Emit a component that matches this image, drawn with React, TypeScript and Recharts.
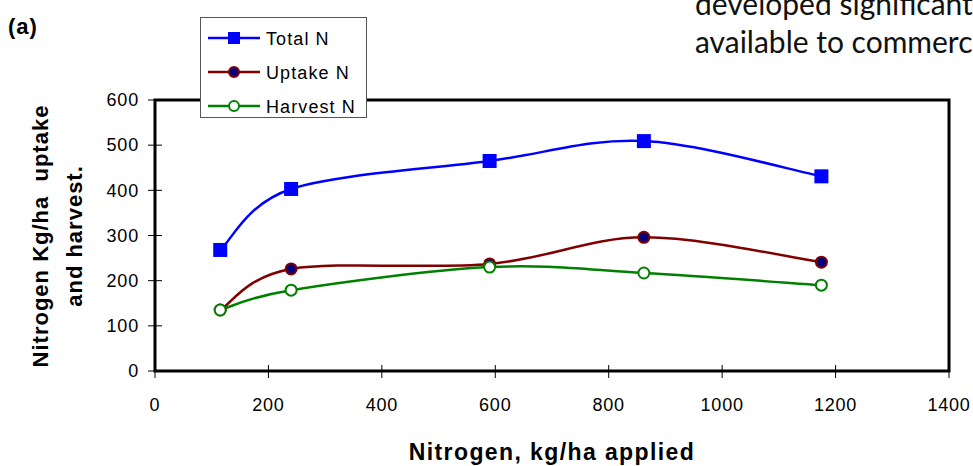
import { Line, LineChart, ReferenceArea, XAxis, YAxis } from 'recharts';

const applied = [115, 240, 590, 862, 1175];
const totalN = [268, 403, 465, 509, 431];
const uptakeN = [135, 226, 237, 296, 241];
const harvestN = [135, 179, 230, 217, 190];

const xTicks = [0, 200, 400, 600, 800, 1000, 1200, 1400];
const yTicks = [0, 100, 200, 300, 400, 500, 600];

const data = applied.map((n, i) => ({
  n,
  total: totalN[i],
  uptake: uptakeN[i],
  harvest: harvestN[i],
}));

const FONT = '"Liberation Sans", Arial, sans-serif';
const TICK_SIZE = 7;
const X_MARGIN = 20;
const Y_MARGIN = 9;

// Excel-style smoothed line (uniform Catmull-Rom as cubic beziers)
// biome-ignore lint/suspicious/noExplicitAny: d3 path context
function excelSmooth(context: any) {
  let xs: number[] = [];
  let ys: number[] = [];
  return {
    areaStart() {},
    areaEnd() {},
    lineStart() {
      xs = [];
      ys = [];
    },
    point(x: number, y: number) {
      xs.push(+x);
      ys.push(+y);
    },
    lineEnd() {
      const n = xs.length;
      if (!n) return;
      context.moveTo(xs[0], ys[0]);
      for (let i = 0; i < n - 1; i++) {
        const x0 = i > 0 ? xs[i - 1] : xs[i];
        const y0 = i > 0 ? ys[i - 1] : ys[i];
        const x3 = i + 2 < n ? xs[i + 2] : xs[i + 1];
        const y3 = i + 2 < n ? ys[i + 2] : ys[i + 1];
        context.bezierCurveTo(
          xs[i] + (xs[i + 1] - x0) / 6,
          ys[i] + (ys[i + 1] - y0) / 6,
          xs[i + 1] - (x3 - xs[i]) / 6,
          ys[i + 1] - (y3 - ys[i]) / 6,
          xs[i + 1],
          ys[i + 1],
        );
      }
    },
  };
}

// ticks that cross the axis line, like the Excel original
// biome-ignore lint/suspicious/noExplicitAny: recharts tick props
const XTick = (props: any) => {
  const { x, y, payload } = props;
  const axisY = y - TICK_SIZE - X_MARGIN;
  return (
    <g>
      {payload.value !== 0 && <line x1={x} x2={x} y1={axisY - 6} y2={axisY} stroke="#000" />}
      <text x={x} y={y} dy="0.71em" textAnchor="middle" fontFamily={FONT} fontSize={18} letterSpacing={0.8} fill="#000">
        {payload.value}
      </text>
    </g>
  );
};

// biome-ignore lint/suspicious/noExplicitAny: recharts tick props
const YTick = (props: any) => {
  const { x, y, payload } = props;
  const axisX = x + TICK_SIZE + Y_MARGIN;
  return (
    <g>
      {payload.value !== 0 && <line x1={axisX} x2={axisX + 7} y1={y} y2={y} stroke="#000" />}
      <text x={x} y={y} dy="0.35em" textAnchor="end" fontFamily={FONT} fontSize={18} letterSpacing={0.8} fill="#000">
        {payload.value}
      </text>
    </g>
  );
};

// biome-ignore lint/suspicious/noExplicitAny: recharts dot props
const SquareDot = (props: any) => (
  <rect key={`sq-${props.index}`} x={props.cx - 7} y={props.cy - 7} width={14} height={14} fill="#0000FF" />
);
// biome-ignore lint/suspicious/noExplicitAny: recharts dot props
const NavyDot = (props: any) => (
  <circle key={`nd-${props.index}`} cx={props.cx} cy={props.cy} r={5.5} fill="#000080" stroke="#800000" strokeWidth={2} />
);
// biome-ignore lint/suspicious/noExplicitAny: recharts dot props
const OpenDot = (props: any) => (
  <circle key={`od-${props.index}`} cx={props.cx} cy={props.cy} r={5.5} fill="#fff" stroke="#008000" strokeWidth={2} />
);

const legendRows = [
  { label: 'Total N', color: '#0000FF', marker: 'square' },
  { label: 'Uptake N', color: '#800000', marker: 'navy' },
  { label: 'Harvest N', color: '#008000', marker: 'open' },
];

const LegendBox = () => (
  <svg width={167} height={101} style={{ position: 'absolute', left: 200, top: 17 }}>
    <rect x={0.5} y={0.5} width={166} height={100} fill="#fff" stroke="#555" />
    {legendRows.map((r, i) => {
      const cy = 21 + i * 34;
      return (
        <g key={r.label}>
          <line x1={8} x2={60} y1={cy} y2={cy} stroke={r.color} strokeWidth={2.5} />
          {r.marker === 'square' && <rect x={28} y={cy - 6} width={12} height={12} fill={r.color} />}
          {r.marker === 'navy' && <circle cx={34} cy={cy} r={5} fill="#000080" stroke="#800000" strokeWidth={2} />}
          {r.marker === 'open' && <circle cx={34} cy={cy} r={5} fill="#fff" stroke="#008000" strokeWidth={2} />}
          <text x={66} y={cy + 6.5} fontFamily={FONT} fontSize={18} letterSpacing={1.1} fill="#000">
            {r.label}
          </text>
        </g>
      );
    })}
  </svg>
);

export default function App() {
  return (
    <div style={{ position: 'absolute', left: 0, top: 0, width: 973, height: 466, background: '#fff', overflow: 'hidden' }}>
      <LineChart width={973} height={466} data={data} margin={{ top: 100, right: 24, bottom: 65, left: 95 }}>
        <XAxis
          dataKey="n"
          type="number"
          domain={[0, 1400]}
          ticks={xTicks}
          axisLine={false}
          tickLine={{ stroke: '#000', strokeWidth: 1 }}
          tickSize={TICK_SIZE}
          tickMargin={X_MARGIN}
          height={30}
          tick={XTick}
        />
        <YAxis
          type="number"
          domain={[0, 600]}
          ticks={yTicks}
          axisLine={false}
          tickLine={{ stroke: '#000', strokeWidth: 1 }}
          tickSize={TICK_SIZE}
          tickMargin={Y_MARGIN}
          width={60}
          tick={YTick}
        />
        <ReferenceArea x1={0} x2={1400} y1={0} y2={600} fill="none" stroke="#000" strokeWidth={3} ifOverflow="visible" />
        <Line
          dataKey="total"
          type={excelSmooth}
          stroke="#0000FF"
          strokeWidth={2.5}
          dot={SquareDot}
          isAnimationActive={false}
        />
        <Line
          dataKey="uptake"
          type={excelSmooth}
          stroke="#800000"
          strokeWidth={2.5}
          dot={NavyDot}
          isAnimationActive={false}
        />
        <Line
          dataKey="harvest"
          type={excelSmooth}
          stroke="#008000"
          strokeWidth={2.5}
          dot={OpenDot}
          isAnimationActive={false}
        />
      </LineChart>
      <LegendBox />
      <svg width={973} height={466} style={{ position: 'absolute', left: 0, top: 0, pointerEvents: 'none' }}>
        <text x={8} y={34} fontFamily={FONT} fontWeight="bold" fontSize={22} letterSpacing={1} fill="#000">
          (a)
        </text>
        <g fontFamily='Lato, "Open Sans", sans-serif' fontSize={30} fill="#111">
          <text x={695} y={15}>developed significantly</text>
          <text x={695} y={53}>available to commercial</text>
        </g>
        <g fontFamily={FONT} fontWeight="bold" fill="#000" textAnchor="middle">
          <text transform="translate(48 236) rotate(-90)" fontSize={22} letterSpacing={1}>
            {'Nitrogen Kg/ha\u00a0 uptake'}
          </text>
          <text transform="translate(82 236) rotate(-90)" fontSize={22} letterSpacing={1}>
            and harvest.
          </text>
          <text x={552} y={460} fontSize={23} letterSpacing={1.4}>
            Nitrogen, kg/ha applied
          </text>
        </g>
      </svg>
    </div>
  );
}
